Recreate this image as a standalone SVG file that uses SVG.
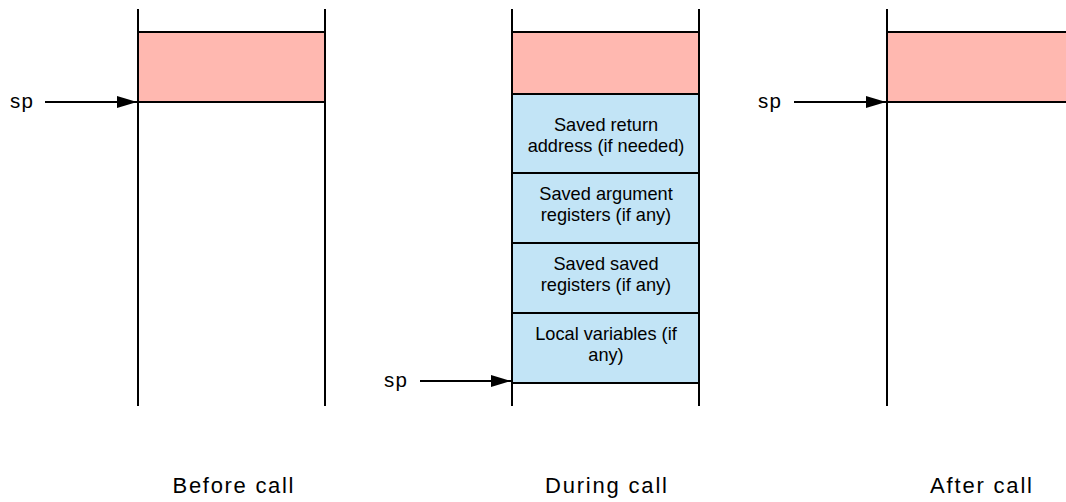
<svg xmlns="http://www.w3.org/2000/svg" width="1066" height="502" viewBox="0 0 1066 502">
<style>
.wall{stroke:#000;stroke-width:2;fill:none}
.pink{fill:#FFB8B0;stroke:#000;stroke-width:2}
.blue{fill:#C2E4F6;stroke:#000;stroke-width:2}
.t{font-family:"Liberation Sans",Arial,sans-serif;font-size:18.2px;fill:#000;text-anchor:middle}
.sp{font-family:"Liberation Sans",Arial,sans-serif;font-size:20.5px;fill:#000}
.cap{font-family:"Liberation Sans",Arial,sans-serif;font-size:22px;fill:#000;text-anchor:middle}
.arr{stroke:#000;stroke-width:2;fill:none;marker-end:url(#ah)}
</style>
<defs>
<marker id="ah" markerWidth="10" markerHeight="6" refX="10" refY="3" orient="auto" markerUnits="strokeWidth" viewBox="0 0 10 6">
<path d="M0,0 L10,3 L0,6 Z" fill="#000"/>
</marker>
</defs>
<rect width="1066" height="502" fill="#fff"/>
<g id="before">
<rect class="pink" x="138" y="32" width="187" height="70"/>
<line class="wall" x1="138" y1="9" x2="138" y2="406"/>
<line class="wall" x1="325" y1="9" x2="325" y2="406"/>
<text class="sp" x="10" y="107.5" textLength="23">sp</text>
<text class="cap" x="233" y="493" textLength="121">Before call</text>
</g>
<g id="during">
<rect class="pink" x="512" y="32" width="187" height="62"/>
<rect class="blue" x="512" y="94" width="187" height="79"/>
<rect class="blue" x="512" y="173" width="187" height="70"/>
<rect class="blue" x="512" y="243" width="187" height="70"/>
<rect class="blue" x="512" y="313" width="187" height="70"/>
<line class="wall" x1="512" y1="9" x2="512" y2="406"/>
<line class="wall" x1="699" y1="9" x2="699" y2="406"/>
<text class="t" x="606" y="131">Saved return</text>
<text class="t" x="606" y="152">address (if needed)</text>
<text class="t" x="606" y="200">Saved argument</text>
<text class="t" x="606" y="221">registers (if any)</text>
<text class="t" x="606" y="270">Saved saved</text>
<text class="t" x="606" y="291">registers (if any)</text>
<text class="t" x="606" y="340">Local variables (if</text>
<text class="t" x="606" y="361">any)</text>
<text class="sp" x="384" y="386.5" textLength="23">sp</text>
<text class="cap" x="606" y="493" textLength="122">During call</text>
</g>
<g id="after">
<rect class="pink" x="887" y="32" width="181" height="70"/>
<line class="wall" x1="887" y1="9" x2="887" y2="406"/>
<text class="sp" x="758" y="107.5" textLength="23">sp</text>
<text class="cap" x="981" y="493" textLength="102">After call</text>
</g>
<g id="connectors">
<line class="arr" x1="45" y1="102" x2="137" y2="102"/>
<line class="arr" x1="420" y1="381" x2="511" y2="381"/>
<line class="arr" x1="794" y1="102" x2="886" y2="102"/>
</g>
</svg>
